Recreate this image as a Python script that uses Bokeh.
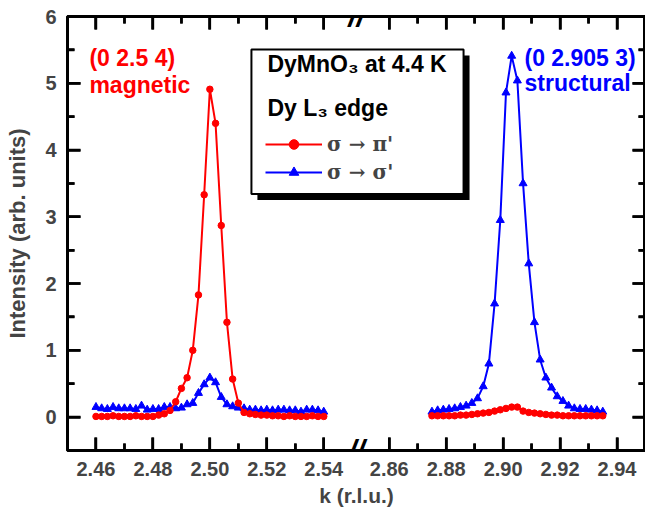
from bokeh.plotting import figure
from bokeh.models import (ColumnDataSource, Range1d, LinearAxis, FixedTicker, Label,
                          Legend, LegendItem, BoxAnnotation, Arrow)
from bokeh.transform import dodge
from bokeh.embed import file_html
from bokeh.resources import INLINE

# ---------------- data ----------------
# magnetic reflection (0 2.5 4): k from 2.460 to 2.540
K_LEFT = [2.460, 2.462, 2.464, 2.466, 2.468, 2.470, 2.472, 2.474, 2.476, 2.478,
          2.480, 2.482, 2.484, 2.486, 2.488, 2.490, 2.492, 2.494, 2.496, 2.498,
          2.500, 2.502, 2.504, 2.506, 2.508, 2.510, 2.512, 2.514, 2.516, 2.518,
          2.520, 2.522, 2.524, 2.526, 2.528, 2.530, 2.532, 2.534, 2.536, 2.538, 2.540]
PI_LEFT = [0.01, 0.01, 0.01, 0.02, 0.01, 0.01, 0.01, 0.02, 0.01, 0.01,
           0.01, 0.03, 0.05, 0.10, 0.23, 0.43, 0.59, 1.00, 1.83, 3.33,
           4.91, 4.40, 2.87, 1.42, 0.57, 0.21, 0.07, 0.05, 0.04, 0.03,
           0.03, 0.02, 0.02, 0.01, 0.02, 0.01, 0.01, 0.01, 0.02, 0.01, 0.01]
SIGMA_LEFT = [0.15, 0.13, 0.12, 0.15, 0.13, 0.13, 0.13, 0.12, 0.17, 0.11,
              0.12, 0.12, 0.15, 0.15, 0.13, 0.14, 0.19, 0.21, 0.36, 0.49,
              0.59, 0.52, 0.30, 0.19, 0.16, 0.14, 0.13, 0.11, 0.11, 0.10,
              0.11, 0.10, 0.11, 0.11, 0.10, 0.10, 0.08, 0.11, 0.11, 0.10, 0.08]

# structural reflection (0 2.905 3): k from 2.875 to 2.935
K_RIGHT = [2.875, 2.877, 2.879, 2.881, 2.883, 2.885, 2.887, 2.889, 2.891, 2.893,
           2.895, 2.897, 2.899, 2.901, 2.903, 2.905, 2.907, 2.909, 2.911, 2.913,
           2.915, 2.917, 2.919, 2.921, 2.923, 2.925, 2.927, 2.929, 2.931, 2.933, 2.935]
PI_RIGHT = [0.02, 0.02, 0.02, 0.02, 0.02, 0.03, 0.03, 0.04, 0.05, 0.06,
            0.07, 0.09, 0.11, 0.13, 0.15, 0.15, 0.09, 0.07, 0.06, 0.05,
            0.04, 0.03, 0.03, 0.02, 0.02, 0.02, 0.02, 0.02, 0.02, 0.02, 0.02]
SIGMA_RIGHT = [0.08, 0.10, 0.11, 0.12, 0.13, 0.15, 0.17, 0.21, 0.28, 0.46,
               0.80, 1.70, 2.95, 4.86, 5.41, 5.04, 3.50, 2.30, 1.42, 0.86,
               0.59, 0.44, 0.31, 0.24, 0.17, 0.13, 0.12, 0.12, 0.11, 0.10, 0.08]

LEFT_TICKS = [2.46, 2.48, 2.50, 2.52, 2.54]
LEFT_MINOR = [2.47, 2.49, 2.51, 2.53]
RIGHT_TICKS = [2.86, 2.88, 2.90, 2.92, 2.94]
RIGHT_MINOR = [2.87, 2.89, 2.91, 2.93]
Y_TICKS = [0, 1, 2, 3, 4, 5, 6]
Y_MINOR = [0.5, 1.5, 2.5, 3.5, 4.5, 5.5]

SERIES_PI = "σ → π'"
SERIES_SIGMA = "σ → σ'"
TITLE_1 = "DyMnO₃ at 4.4 K"
TITLE_2 = "Dy L₃ edge"
ANN_MAG = ["(0 2.5 4)", "magnetic"]
ANN_STR = ["(0 2.905 3)", "structural"]

# ---------------- broken axis geometry ----------------
LEFT_SPAN = (2.45, 2.55)
RIGHT_SPAN = (2.85, 2.95)
GAP = 0.003
SHIFT = RIGHT_SPAN[0] - LEFT_SPAN[1] - GAP
Y_SPAN = (-0.5, 6)


def to_axis(k):
    return round(k if k < 2.7 else k - SHIFT, 6)


X_END = to_axis(RIGHT_SPAN[1])
RED = "#ff0000"
BLUE = "#0000ff"
FONT = "Liberation Sans"
FRAME_W, FRAME_H = 578, 432          # plot-area size in pixels
MAJOR_PX, MINOR_PX = 13, 7           # inward tick lengths in pixels

p = figure(width=645, height=512,
           x_range=Range1d(LEFT_SPAN[0], X_END),
           y_range=Range1d(*Y_SPAN),
           x_axis_location=None, y_axis_location=None,
           output_backend="svg", toolbar_location=None,
           min_border_left=67, min_border_right=0,
           min_border_top=16, min_border_bottom=62)
p.grid.visible = False
p.outline_line_color = "black"
p.outline_line_width = 3
p.background_fill_color = "white"
p.border_fill_color = "white"

src_l = ColumnDataSource(dict(k=K_LEFT, pi=PI_LEFT, sg=SIGMA_LEFT))
src_r = ColumnDataSource(dict(k=K_RIGHT, pi=PI_RIGHT, sg=SIGMA_RIGHT))
xr = dodge("k", -SHIFT)

bl1 = p.line("k", "sg", source=src_l, line_color=BLUE, line_width=2)
bm1 = p.scatter("k", "sg", source=src_l, marker="triangle", size=8,
                fill_color=BLUE, line_color=BLUE)
bl2 = p.line(xr, "sg", source=src_r, line_color=BLUE, line_width=2)
bm2 = p.scatter(xr, "sg", source=src_r, marker="triangle", size=8,
                fill_color=BLUE, line_color=BLUE)
rl1 = p.line("k", "pi", source=src_l, line_color=RED, line_width=2)
rm1 = p.scatter("k", "pi", source=src_l, marker="circle", size=6.5,
                fill_color=RED, line_color=RED)
rl2 = p.line(xr, "pi", source=src_r, line_color=RED, line_width=2)
rm2 = p.scatter(xr, "pi", source=src_r, marker="circle", size=6.5,
                fill_color=RED, line_color=RED)

X_MAJOR_U = [to_axis(k) for k in LEFT_TICKS + RIGHT_TICKS]
X_MINOR_U = [to_axis(k) for k in LEFT_MINOR + RIGHT_MINOR]
xt = FixedTicker(ticks=X_MAJOR_U, minor_ticks=X_MINOR_U)
yt = FixedTicker(ticks=Y_TICKS, minor_ticks=Y_MINOR)
overrides = {to_axis(k): f"{k:.2f}" for k in LEFT_TICKS + RIGHT_TICKS}


def style(ax, labels):
    ax.axis_line_width = 3
    ax.major_tick_line_width = 2.5
    ax.minor_tick_line_width = 2.5
    ax.major_tick_in = 13
    ax.major_tick_out = 0
    ax.minor_tick_in = 7
    ax.minor_tick_out = 0
    ax.major_label_text_font = FONT
    ax.major_label_text_font_style = "bold"
    ax.major_label_text_font_size = "20px"
    ax.axis_label_text_font = FONT
    ax.axis_label_text_font_style = "bold"
    ax.axis_label_text_font_size = "21px"
    if not labels:
        ax.major_label_text_font_size = "0px"
        ax.major_label_standoff = 0


bottom = LinearAxis(ticker=xt, major_label_overrides=overrides, axis_label="k (r.l.u.)")
style(bottom, True)
bottom.major_label_standoff = 11
bottom.axis_label_standoff = 5
top = LinearAxis(ticker=xt, major_label_overrides={v: "" for v in overrides})
style(top, False)
left = LinearAxis(ticker=yt, axis_label="Intensity (arb. units)")
style(left, True)
left.axis_label_text_font_size = "22px"
left.major_label_standoff = 11
left.axis_label_standoff = 12
right = LinearAxis(ticker=yt, major_label_overrides={v: "" for v in Y_TICKS})
style(right, False)
p.add_layout(bottom, "below")
p.add_layout(top, "above")
p.add_layout(left, "left")
p.add_layout(right, "right")

# inward-pointing tick marks on all four frame edges (head-less arrows)
DY = (Y_SPAN[1] - Y_SPAN[0]) / FRAME_H
DX = (X_END - LEFT_SPAN[0]) / FRAME_W
tx0, tx1, ty0, ty1 = [], [], [], []
for ticks, px in ((X_MAJOR_U, MAJOR_PX), (X_MINOR_U, MINOR_PX)):
    for t in ticks:
        tx0 += [t, t]
        tx1 += [t, t]
        ty0 += [Y_SPAN[0], Y_SPAN[1]]
        ty1 += [Y_SPAN[0] + px * DY, Y_SPAN[1] - px * DY]
for ticks, px in ((Y_TICKS, MAJOR_PX), (Y_MINOR, MINOR_PX)):
    for t in ticks:
        tx0 += [LEFT_SPAN[0], X_END]
        tx1 += [LEFT_SPAN[0] + px * DX, X_END - px * DX]
        ty0 += [t, t]
        ty1 += [t, t]
tick_src = ColumnDataSource(dict(x0=tx0, x1=tx1, y0=ty0, y1=ty1))
p.add_layout(Arrow(end=None, start=None, x_start="x0", y_start="y0", x_end="x1",
                   y_end="y1", source=tick_src, line_color="black", line_width=2.5))

# axis break marks
BREAK_U = LEFT_SPAN[1] + GAP / 2
for yb in Y_SPAN:
    p.add_layout(Label(x=BREAK_U, y=yb, text="//", text_align="center",
                       text_baseline="middle", text_font=FONT, text_font_style="bold italic",
                       text_font_size="30px", text_color="black"))

# peak annotations
for txt, yy in zip(ANN_MAG, [5.38, 4.98]):
    p.add_layout(Label(x=2.4577, y=yy, text=txt, text_align="left", text_baseline="middle",
                       text_font=FONT, text_font_style="bold", text_font_size="23px",
                       text_color=RED))
for txt, yy in zip(ANN_STR, [5.38, 5.01]):
    p.add_layout(Label(x=2.6105, y=yy, text=txt, text_align="left", text_baseline="middle",
                       text_font=FONT, text_font_style="bold", text_font_size="23px",
                       text_color=BLUE))

# legend box with shadow
BOX = dict(left=2.5146, right=2.5891, top=5.507, bottom=3.34)
p.add_layout(BoxAnnotation(left=BOX["left"] + 0.0021, right=BOX["right"] + 0.0021,
                           top=BOX["top"] - 0.09, bottom=BOX["bottom"] - 0.09,
                           fill_color="black", fill_alpha=1, line_color=None))
p.add_layout(BoxAnnotation(**BOX, fill_color="white", fill_alpha=1,
                           line_color="black", line_width=2, line_alpha=1))
for txt, yy in [(TITLE_1, 5.29), (TITLE_2, 4.63)]:
    p.add_layout(Label(x=2.5202, y=yy, text=txt, text_align="left", text_baseline="middle",
                       text_font=FONT, text_font_style="bold", text_font_size="23px",
                       text_color="black"))

legend = Legend(items=[LegendItem(label=SERIES_PI, renderers=[rl1, rm1]),
                       LegendItem(label=SERIES_SIGMA, renderers=[bl1, bm1])],
                location=(198, 266), orientation="vertical", padding=0, spacing=4,
                margin=0, glyph_width=57, glyph_height=24, label_height=24,
                label_standoff=5, border_line_color=None, background_fill_alpha=0,
                label_text_font="DejaVu Serif", label_text_font_style="bold",
                label_text_font_size="20px")
p.add_layout(legend)

open("out.html", "w").write(file_html(p, INLINE))
